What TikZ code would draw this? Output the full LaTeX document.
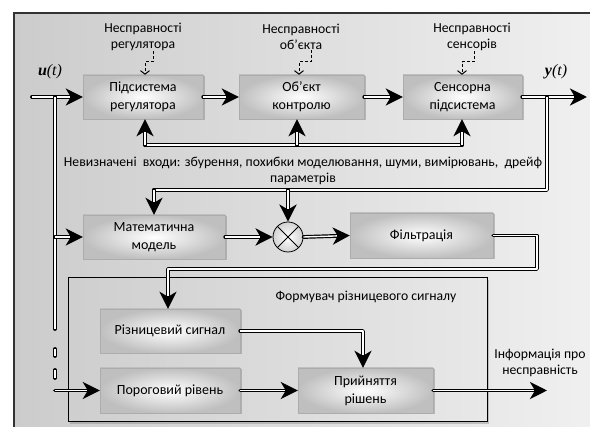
\documentclass[tikz,border=0pt]{standalone}
\usepackage{fontspec}
\setmainfont{Carlito}
\newfontfamily\serifit{Liberation Serif}
\usetikzlibrary{arrows.meta,shadows,calc}
\begin{document}
\begin{tikzpicture}[x=1pt,y=-1pt,
  box/.style={rectangle, draw=gray!65, inner color=white, outer color=gray!50,
    drop shadow={opacity=0.45,shadow xshift=1.5pt,shadow yshift=-1.5pt},
    align=center, font=\fontsize{14}{18}\selectfont, minimum height=44pt, inner sep=0pt},
  lbl/.style={align=center, font=\fontsize{13.7}{16}\selectfont, inner sep=0pt},
  conn/.style={draw=black, line width=3.8pt, line cap=round, line join=round,
    postaction={draw=white, line width=1.4pt, line cap=butt, line join=round}},
  arr/.style={draw=black, line width=3.8pt, line cap=round, line join=round,
    -{Stealth[length=17pt 0,width=17pt 0,inset=5pt 0]},
    postaction={draw=white, line width=1.4pt, line cap=butt, line join=round, -, shorten >=13pt}},
  fault/.style={draw=black, line width=1pt, dash pattern=on 3pt off 2pt,
    -{Straight Barb[length=3.5pt,width=9pt]}},
  sig/.style={font=\fontsize{16}{18}\selectfont\serifit, inner sep=0pt}
]
\useasboundingbox (0,0) rectangle (590,427);
\fill[white] (0,0) rectangle (590,427);
% outer frame
\path[left color=gray!40, right color=gray!12] (14,13) rectangle (592,429);
\draw[gray!40!black, line width=1.6pt] (14,429) -- (14,13) -- (592,13);

% top row
\node[box, minimum width=120pt] (reg) at (143,97) {Підсистема\\регулятора};
\node[box, minimum width=125pt] (obj) at (301.5,97) {Об'єкт\\контролю};
\node[box, minimum width=119pt] (sens) at (462.5,97) {Сенсорна\\підсистема};

% fault labels
\node[lbl] (fr) at (143,37) {Несправності\\регулятора};
\node[lbl] (fo) at (301,37) {Несправності\\об'єкта};
\node[lbl] (fs) at (472,37) {Несправності\\сенсорів};
\draw[fault] (fr.south -| 153,0) -- (153,62) -- (145,62) -- (reg.north -| 145,0);
\draw[fault] (fo.south -| 311,0) -- (311,62) -- (299,62) -- (obj.north -| 299,0);
\draw[fault] (fs.south -| 474,0) -- (474,62) -- (462,62) -- (sens.north -| 462,0);

\node[sig] (ulab) at (50,72) {\bfseries\itshape u\mdseries(t)};
\node[sig] (ylab) at (556,72) {\bfseries\itshape y\mdseries(t)};

\coordinate (uin) at (32,97);
\coordinate (yout) at (587,97);
\coordinate (ybr) at (547,97);
\coordinate (ud) at (55,97);

% inner frame
\node[rectangle, draw=black, line width=1pt, left color=gray!38, right color=gray!18,
  drop shadow={opacity=0.4,shadow xshift=2pt,shadow yshift=-2pt},
  minimum width=419pt, minimum height=144pt, inner sep=0pt] (frm) at (277.5,350) {};
\node[lbl] (frmlab) at (366,297) {Формувач різницевого сигналу};

% middle row
\node[box, minimum width=142pt] (model) at (154,237) {Математична\\модель};
\node[circle, draw=black, line width=0.8pt, inner color=white, outer color=gray!35,
  minimum size=30pt, inner sep=0pt,
  path picture={\draw[line width=0.8pt] (path picture bounding box.south west) -- (path picture bounding box.north east)
     (path picture bounding box.north west) -- (path picture bounding box.south east);}] (circ) at (288,237) {};
\node[box, minimum width=143pt, minimum height=45pt] (filt) at (421.5,235.5) {Фільтрація};

% bottom
\node[box, minimum width=140pt] (diff) at (170,331) {Різницевий сигнал};
\node[box, minimum width=140pt, minimum height=45pt] (thr) at (170,390.5) {Пороговий рівень};
\node[box, minimum width=135pt, minimum height=45pt] (dec) at (365.5,390.5) {Прийняття\\рішень};

\node[lbl] (unc) at (303,171) {Невизначені\ \ входи: збурення, похибки моделювання, шуми, вимірювань,\ \ дрейф\\параметрів};
\node[lbl] (info) at (540,363) {Інформація про\\несправність};

% main chain
\draw[arr] (uin) -- (reg.west);
\draw[arr] (reg.east) -- (obj.west);
\draw[arr] (obj.east) -- (sens.west);
\draw[arr] (sens.east) -- (yout);

% u vertical
\coordinate (ud1) at (55,329);
\coordinate (ud2) at (55,390.5);
\draw[conn] (ud) -- (ud1);
\coordinate (da1) at (55,349);
\coordinate (da2) at (55,356);
\coordinate (db1) at (55,370);
\coordinate (db2) at (55,378);
\draw[conn] (da1) -- (da2);
\draw[conn] (db1) -- (db2);
\draw[arr] (ud |- model.west) -- (model.west);
\draw[arr] (ud2) -- (thr.west);

% feedback bus
\coordinate (b1) at (145,145);
\coordinate (b2) at (297,145);
\coordinate (b3) at (462,145);
\draw[conn] (b1) -- (b3);
\draw[arr] (b1) -- (reg.south -| b1);
\draw[arr] (b2) -- (obj.south -| b2);
\draw[arr] (b3) -- (sens.south -| b3);

% y feedback
\coordinate (yc) at (547,190);
\coordinate (m1) at (154,190);
\coordinate (m2) at (288,190);
\draw[conn] (ybr) -- (yc) -- (m1);
\draw[arr] (m1) -- (model.north);
\draw[arr] (m2) -- (circ.north);

\draw[arr] (model.east) -- (circ.west);
\draw[arr] (circ.east) -- (filt.west);

\coordinate (f1) at (537,235.5);
\coordinate (f2) at (537,269);
\coordinate (f3) at (168,269);
\draw[arr] (filt.east) -- (f1) -- (f2) -- (f3) -- (diff.north -| f3);

\coordinate (d1) at (363,331);
\draw[arr] (diff.east) -- (d1) -- (dec.north -| d1);
\draw[arr] (thr.east) -- (dec.west);
\coordinate (out) at (547,390.5);
\draw[arr] (dec.east) -- (out);
\end{tikzpicture}
\end{document}
